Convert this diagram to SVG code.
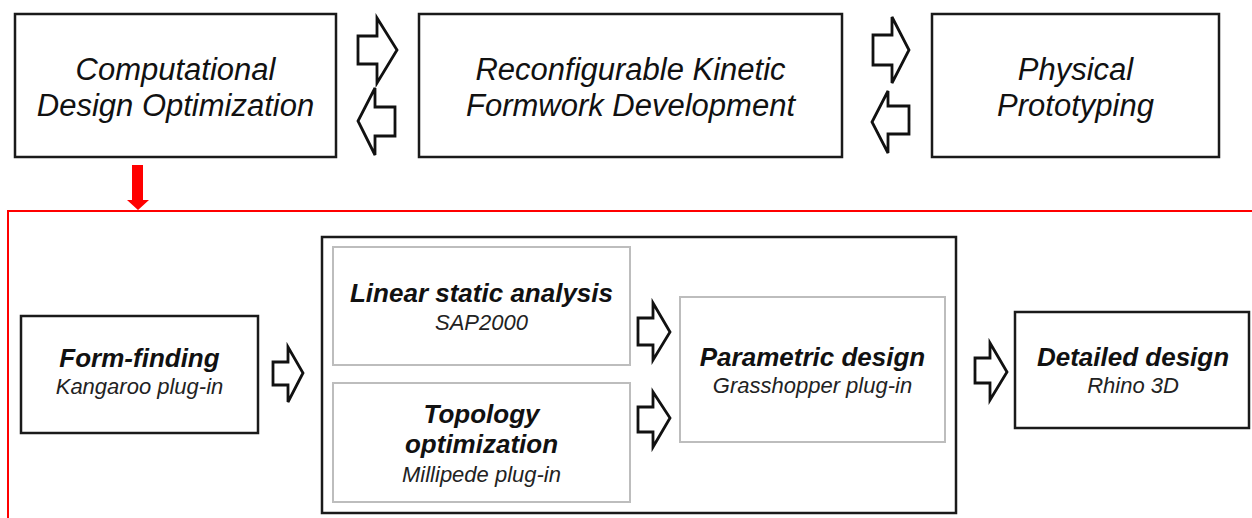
<svg xmlns="http://www.w3.org/2000/svg" width="1252" height="518" viewBox="0 0 1252 518">
  <style>
    .box { fill: #fff; stroke: #1a1a1a; stroke-width: 2.5; }
    .sub { fill: #fff; stroke: #bdbdbd; stroke-width: 2; }
    .blk { fill: #fff; stroke: #111; stroke-width: 2.8; stroke-linejoin: miter; }
    text { font-family: "Liberation Sans", Arial, sans-serif; fill: #111; text-anchor: middle; font-style: italic; }
    .big { font-size: 31px; }
    .ttl { font-size: 26px; font-weight: bold; }
    .tool { font-size: 22px; fill: #222; }
  </style>
  <rect width="1252" height="518" fill="#fff"/>

  <!-- top row: research stages -->
  <g id="stage-computational">
    <rect class="box" x="15" y="14" width="321" height="143"/>
    <text class="big" x="175.5" y="80">Computational</text>
    <text class="big" x="175.5" y="116">Design Optimization</text>
  </g>
  <g id="stage-formwork">
    <rect class="box" x="419" y="14" width="423" height="143"/>
    <text class="big" x="630.5" y="80">Reconfigurable Kinetic</text>
    <text class="big" x="630.5" y="116">Formwork Development</text>
  </g>
  <g id="stage-prototyping">
    <rect class="box" x="932" y="14" width="287" height="143"/>
    <text class="big" x="1075.5" y="80">Physical</text>
    <text class="big" x="1075.5" y="116">Prototyping</text>
  </g>

  <!-- lower workflow -->
  <g id="workflow-frame">
    <path d="M1262,211 H8 V530" fill="none" stroke="#ff0000" stroke-width="2"/>
  </g>
  <g id="form-finding">
    <rect class="box" x="21" y="316" width="237" height="117"/>
    <text class="ttl" x="139.5" y="367">Form-finding</text>
    <text class="tool" x="139.5" y="394">Kangaroo plug-in</text>
  </g>
  <g id="analysis-group">
    <rect class="box" x="322" y="237" width="634" height="276"/>
  </g>
  <g id="linear-static">
    <rect class="sub" x="333" y="247" width="297" height="118"/>
    <text class="ttl" x="481.5" y="302">Linear static analysis</text>
    <text class="tool" x="481.5" y="330">SAP2000</text>
  </g>
  <g id="topology">
    <rect class="sub" x="333" y="383" width="297" height="119"/>
    <text class="ttl" x="481.5" y="423">Topology</text>
    <text class="ttl" x="481.5" y="453">optimization</text>
    <text class="tool" x="481.5" y="482">Millipede plug-in</text>
  </g>
  <g id="parametric">
    <rect class="sub" x="680" y="297" width="265" height="145"/>
    <text class="ttl" x="812.5" y="366">Parametric design</text>
    <text class="tool" x="812.5" y="393">Grasshopper plug-in</text>
  </g>
  <g id="detailed">
    <rect class="box" x="1015" y="312" width="234" height="116"/>
    <text class="ttl" x="1133" y="366">Detailed design</text>
    <text class="tool" x="1133" y="393">Rhino 3D</text>
  </g>

  <!-- connectors: outlined block arrows -->
  <g id="connectors">
    <polygon class="blk" points="358,36 377,36 377,18 397,50 377,83 377,64 358,64"/>
    <polygon class="blk" points="395,107 375,107 375,88 358,121 375,155 375,136 395,136"/>
    <polygon class="blk" points="873,35 892,35 892,17 909,50 892,83 892,65 873,65"/>
    <polygon class="blk" points="909,106 888,106 888,91 872,122 888,153 888,134 909,134"/>
    <polygon fill="#ff0000" points="132,165 143,165 143,200 149,200 138,210 127,200 132,200"/>
    <polygon class="blk" points="273,362 288,362 288,347 303,373 288,402 288,385 273,385"/>
    <polygon class="blk" points="638,318 653,318 653,303 670,332 653,360 653,345 638,345"/>
    <polygon class="blk" points="638,407 653,407 653,392 670,418 653,447 653,432 638,432"/>
    <polygon class="blk" points="975,358 990,358 990,343 1007,372 990,400 990,383 975,383"/>
  </g>
</svg>
